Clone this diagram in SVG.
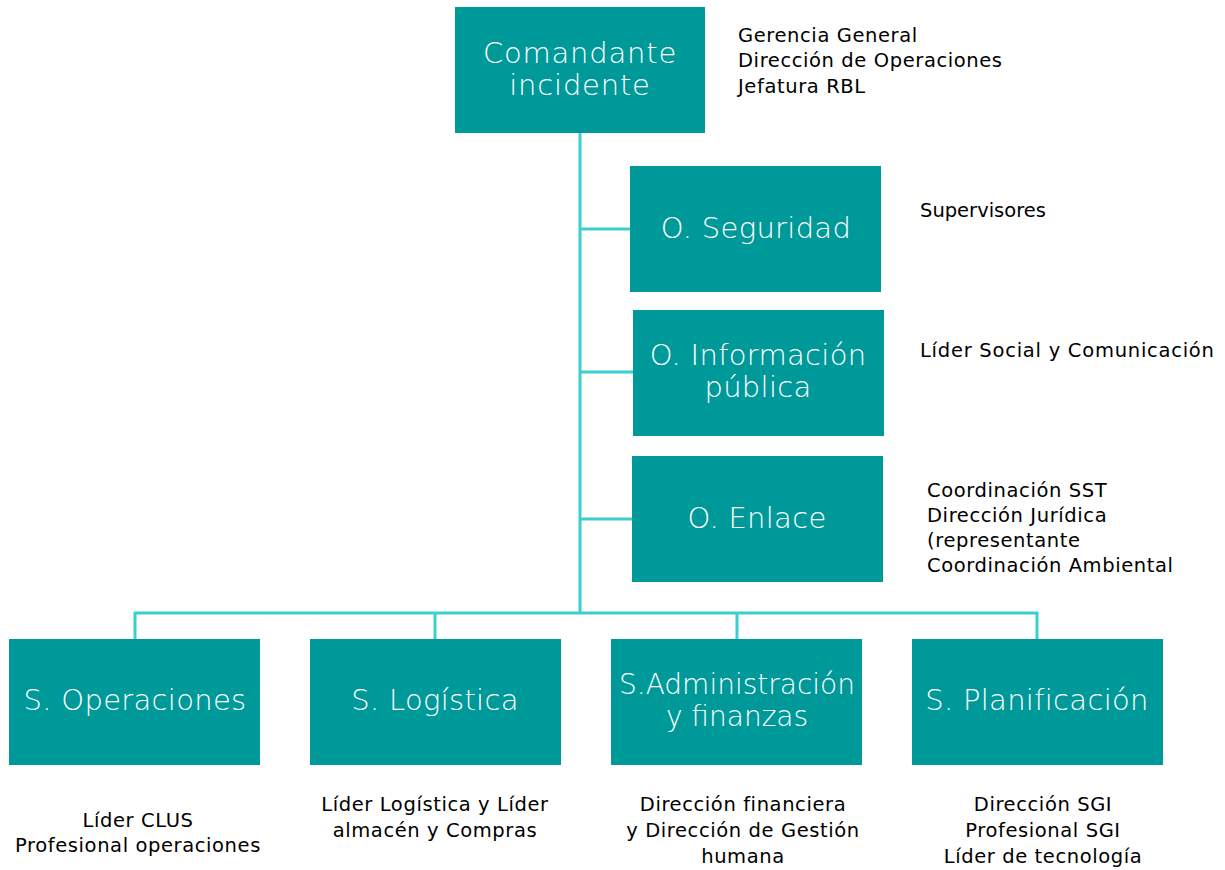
<svg xmlns="http://www.w3.org/2000/svg" width="1225" height="870" viewBox="0 0 1225 870">
<style>
.box{fill:#009999;}
.bt{font-family:"DejaVu Sans",sans-serif;font-size:29px;font-weight:200;fill:#ffffff;text-anchor:middle;letter-spacing:0.3px;}
.lb{font-family:"DejaVu Sans",sans-serif;font-size:19.5px;fill:#000000;letter-spacing:0.6px;}
.lbc{font-family:"DejaVu Sans",sans-serif;font-size:19.5px;fill:#000000;text-anchor:middle;letter-spacing:0.6px;}
.ln{fill:none;stroke:#3ccfcf;stroke-width:3;}
</style>
<rect width="1225" height="870" fill="#ffffff"/>
<g id="connectors">
<path class="ln" d="M580,133 V613"/>
<path class="ln" d="M580,229 H630"/>
<path class="ln" d="M580,372 H633"/>
<path class="ln" d="M580,519 H632"/>
<path class="ln" d="M135,639 V613 H1037 V639"/>
<path class="ln" d="M435,613 V639"/>
<path class="ln" d="M737,613 V639"/>
</g>
<g id="comandante">
<rect class="box" x="455" y="7" width="250" height="126"/>
<text class="bt" x="580" y="63" style="letter-spacing:0.8px">Comandante</text>
<text class="bt" x="580" y="95" style="letter-spacing:0.8px">incidente</text>
<text class="lb" x="738" y="42">Gerencia General</text>
<text class="lb" x="738" y="67">Dirección de Operaciones</text>
<text class="lb" x="738" y="93">Jefatura RBL</text>
</g>
<g id="seguridad">
<rect class="box" x="630" y="166" width="251" height="126"/>
<text class="bt" x="756" y="238">O. Seguridad</text>
<text class="lb" x="920" y="217" style="letter-spacing:0">Supervisores</text>
</g>
<g id="informacion">
<rect class="box" x="633" y="310" width="251" height="126"/>
<text class="bt" x="758" y="365">O. Información</text>
<text class="bt" x="758" y="397">pública</text>
<text class="lb" x="920" y="357" style="letter-spacing:0.75px">Líder Social y Comunicación</text>
</g>
<g id="enlace">
<rect class="box" x="632" y="456" width="251" height="126"/>
<text class="bt" x="757" y="528">O. Enlace</text>
<text class="lb" x="927" y="497">Coordinación SST</text>
<text class="lb" x="927" y="522">Dirección Jurídica</text>
<text class="lb" x="927" y="547">(representante</text>
<text class="lb" x="927" y="572">Coordinación Ambiental</text>
</g>
<g id="operaciones">
<rect class="box" x="9" y="639" width="251" height="126"/>
<text class="bt" x="135" y="710">S. Operaciones</text>
<text class="lbc" x="138" y="827">Líder CLUS</text>
<text class="lbc" x="138" y="852">Profesional operaciones</text>
</g>
<g id="logistica">
<rect class="box" x="310" y="639" width="251" height="126"/>
<text class="bt" x="435" y="710">S. Logística</text>
<text class="lbc" x="435" y="811">Líder Logística y Líder</text>
<text class="lbc" x="435" y="837">almacén y Compras</text>
</g>
<g id="administracion">
<rect class="box" x="611" y="639" width="251" height="126"/>
<text class="bt" x="737" y="694" style="letter-spacing:0;font-size:28px">S.Administración</text>
<text class="bt" x="737" y="726" style="letter-spacing:0;font-size:28px">y finanzas</text>
<text class="lbc" x="743" y="811">Dirección financiera</text>
<text class="lbc" x="743" y="837">y Dirección de Gestión</text>
<text class="lbc" x="743" y="863">humana</text>
</g>
<g id="planificacion">
<rect class="box" x="912" y="639" width="251" height="126"/>
<text class="bt" x="1037" y="710">S. Planificación</text>
<text class="lbc" x="1043" y="811">Dirección SGI</text>
<text class="lbc" x="1043" y="837">Profesional SGI</text>
<text class="lbc" x="1043" y="863">Líder de tecnología</text>
</g>
</svg>
